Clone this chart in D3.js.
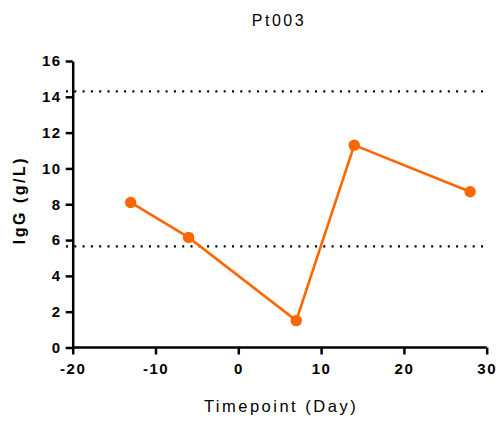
<!DOCTYPE html>
<html><head><meta charset="utf-8">
<script src="https://cdn.jsdelivr.net/npm/d3@7"></script>
<style>body{margin:0;background:#fff}</style>
</head><body>
<svg id="c" width="498" height="421"></svg>
<script>
const days = [-13, -6, 7, 14, 28];
const igg = [8.1, 6.15, 1.5, 11.3, 8.7];
const refLines = [14.3, 5.65];
const xTicks = [-20, -10, 0, 10, 20, 30];
const yTicks = [0, 2, 4, 6, 8, 10, 12, 14, 16];
const title = "Pt003";
const xTitle = "Timepoint (Day)";
const yTitle = "IgG (g/L)";

const svg = d3.select("#c");
const x = d3.scaleLinear().domain([-20, 30]).range([72.7, 486.7]);
const y = d3.scaleLinear().domain([0, 16]).range([347.5, 61]);
const font = "'Liberation Sans', Arial, sans-serif";
const orange = "#ff6600";

// reference lines
svg.selectAll("line.ref").data(refLines).enter().append("line")
  .attr("x1", 66).attr("x2", x(30))
  .attr("y1", d => y(d)).attr("y2", d => y(d))
  .attr("stroke", "#000").attr("stroke-width", 2.2)
  .attr("stroke-dasharray", "2,6.3");

const fmt = d => String(d);
const xAxis = svg.append("g").attr("transform", `translate(0,${y(0)})`)
  .call(d3.axisBottom(x).tickValues(xTicks).tickFormat(fmt).tickSize(7).tickPadding(9).tickSizeOuter(0));
const yAxis = svg.append("g").attr("transform", `translate(${x(-20)},0)`)
  .call(d3.axisLeft(y).tickValues(yTicks).tickFormat(fmt).tickSize(7).tickPadding(4).tickSizeOuter(0));
[xAxis, yAxis].forEach(g => {
  g.select(".domain").attr("stroke", "#000").attr("stroke-width", 2.5);
  g.selectAll(".tick line").attr("stroke", "#000").attr("stroke-width", 2.5);
  g.selectAll(".tick text").attr("fill", "#000").attr("font-family", font)
    .attr("font-weight", "bold").attr("font-size", 15).style("letter-spacing", "1.5px");
});
xAxis.select(".domain").attr("d", `M${x(-20)},0H${x(30)}`);

// line
svg.append("path").datum(days.map((d, i) => [d, igg[i]]))
  .attr("fill", "none").attr("stroke", orange).attr("stroke-width", 2.6)
  .attr("d", d3.line().x(d => x(d[0])).y(d => y(d[1])));
svg.selectAll("circle.pt").data(days.map((d, i) => [d, igg[i]])).enter().append("circle")
  .attr("cx", d => x(d[0])).attr("cy", d => y(d[1])).attr("r", 5.7).attr("fill", orange);

// titles
svg.append("text").attr("x", 279).attr("y", 26).attr("text-anchor", "middle")
  .attr("font-family", font).attr("font-size", 16).style("letter-spacing", "2.5px").text(title);
svg.append("text").attr("x", 281).attr("y", 412).attr("text-anchor", "middle")
  .attr("font-family", font).attr("font-size", 16.5).style("letter-spacing", "2.5px").text(xTitle);
svg.append("text").attr("transform", `translate(25,200) rotate(-90)`).attr("text-anchor", "middle")
  .attr("font-family", font).attr("font-weight", "bold").attr("font-size", 16)
  .style("letter-spacing", "2.5px").text(yTitle);
</script>
</body></html>
